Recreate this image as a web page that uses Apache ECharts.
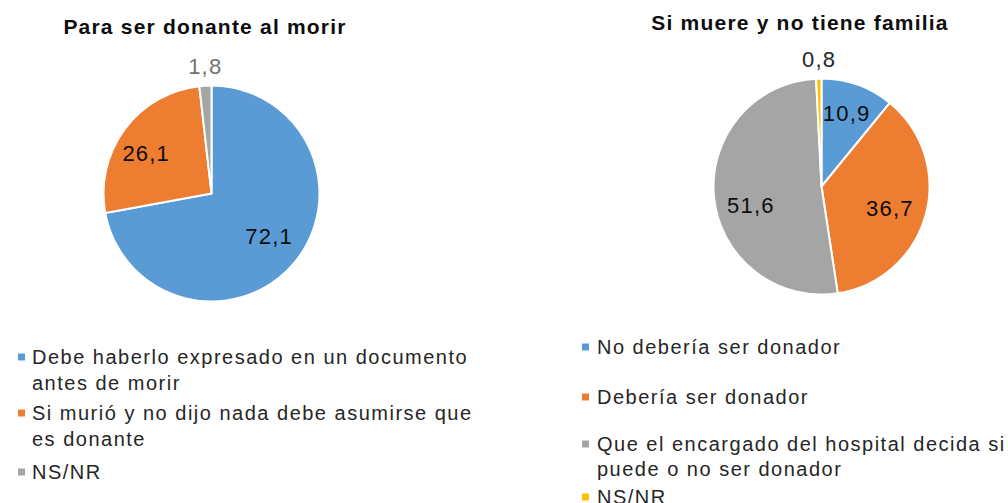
<!DOCTYPE html>
<html>
<head>
<meta charset="utf-8">
<script src="https://cdn.jsdelivr.net/npm/echarts@6/dist/echarts.min.js"></script>
<style>
  html, body { margin: 0; padding: 0; background: #ffffff; }
  #chart { width: 1008px; height: 503px; }
  #chart text { letter-spacing: 1.2px; }
  /* legend entries (20px text) are set a little looser */
  #chart text[style*="20px"] { letter-spacing: 1.5px; }
</style>
</head>
<body>
<div id="chart"></div>
<script>
// Left pie: "Para ser donante al morir"
const leftTitle = 'Para ser donante al morir';
const leftCategories = [
  'Debe haberlo expresado en un documento\nantes de morir',
  'Si murió y no dijo nada debe asumirse que\nes donante',
  'NS/NR'
];
const leftValues = [72.1, 26.1, 1.8];
const leftColors = ['#5B9BD5', '#ED7D31', '#A5A5A5'];

// Right pie: "Si muere y no tiene familia"
const rightTitle = 'Si muere y no tiene familia';
const rightCategories = [
  'No debería ser donador',
  'Debería ser donador',
  'Que el encargado del hospital decida si\npuede o no ser donador',
  'NS/NR'
];
const rightValues = [10.9, 36.7, 51.6, 0.8];
const rightColors = ['#5B9BD5', '#ED7D31', '#A5A5A5', '#FFC000'];

const FONT = '"Liberation Sans", Arial, sans-serif';
const fmt = p => String(p.value).replace('.', ',');

// Layout settings for each pie and its legend
const panels = [
  {
    title: leftTitle, names: leftCategories, values: leftValues, colors: leftColors,
    center: [211.5, 193.5], titleX: 205, titleTop: 16,
    legendX: 18, legendPadLeft: 2, lineH: 26,
    legendRows: [357, 413, 472],
    labelNudge: [[0, -5], [-5, 5], [5, 0]],
    smallLabelColor: '#737373'
  },
  {
    title: rightTitle, names: rightCategories, values: rightValues, colors: rightColors,
    center: [821.5, 186.5], titleX: 800, titleTop: 12,
    legendX: 582, legendPadLeft: 3, lineH: 25,
    legendRows: [347, 397, 444, 497],
    labelNudge: [[0, -2], [-4, 2], [4, 11], [5, 0]],
    smallLabelColor: '#262626'
  }
];

const RADIUS = 108;
const MARK = 7;
const titles = [];
const legends = [];
const series = [];

panels.forEach(pn => {
  titles.push({
    text: pn.title,
    left: pn.titleX,
    top: pn.titleTop,
    textAlign: 'center',
    padding: 0,
    textStyle: { fontFamily: FONT, fontSize: 21, fontWeight: 'bold', color: '#0d0d0d' }
  });

  // One legend block per entry so every row sits at its own height.
  // The marker square is drawn at the top of a taller icon box so that it
  // lines up with the first line of a wrapped label.
  pn.names.forEach((name, i) => {
    const lines = name.split('\n').length;
    const L = pn.lineH;
    const H = MARK + (lines - 1) * L;
    legends.push({
      orient: 'vertical',
      left: pn.legendX,
      top: pn.legendRows[i] - L / 2,
      padding: 0,
      icon: 'path://M0,0L' + MARK + ',0L' + MARK + ',' + MARK + 'L0,' + MARK + 'Z' +
            (H > MARK ? 'M0,' + H + 'L0,' + H : ''),
      itemWidth: MARK,
      itemHeight: H,
      selectedMode: false,
      itemStyle: { borderWidth: 0 },
      textStyle: { fontFamily: FONT, fontSize: 20, lineHeight: L, color: '#262626' },
      data: [{
        name: name,
        itemStyle: { color: pn.colors[i], borderWidth: 0 },
        textStyle: { padding: [0, 0, 0, pn.legendPadLeft] }
      }]
    });
  });

  // Slices
  series.push({
    type: 'pie',
    center: pn.center,
    radius: [0, RADIUS],
    startAngle: 90,
    clockwise: true,
    avoidLabelOverlap: false,
    emphasis: { disabled: true },
    itemStyle: { borderColor: '#ffffff', borderWidth: 2 },
    label: { show: false },
    labelLine: { show: false },
    data: pn.names.map((n, i) => ({ name: n, value: pn.values[i], itemStyle: { color: pn.colors[i] } }))
  });

  // Value labels, placed on an invisible ring so they sit further out in each slice
  series.push({
    type: 'pie',
    center: pn.center,
    radius: [36, RADIUS],
    startAngle: 90,
    clockwise: true,
    silent: true,
    avoidLabelOverlap: false,
    emphasis: { disabled: true },
    itemStyle: { color: 'rgba(0,0,0,0)', borderWidth: 0 },
    label: {
      show: true, position: 'inside', formatter: fmt,
      fontFamily: FONT, fontSize: 22, color: '#0d0d0d'
    },
    labelLine: { show: false, length: 19, length2: 0 },
    labelLayout: params => {
      const d = pn.labelNudge[params.dataIndex] || [0, 0];
      return { dx: d[0], dy: d[1] };
    },
    data: pn.names.map((n, i) => {
      const item = { name: n, value: pn.values[i] };
      if (pn.values[i] < 5) {
        item.label = { position: 'outside', color: pn.smallLabelColor, distanceToLabelLine: -13 };
      }
      return item;
    })
  });
});

const chart = echarts.init(document.getElementById('chart'), null, { renderer: 'svg' });
chart.setOption({
  backgroundColor: '#ffffff',
  animation: false,
  title: titles,
  legend: legends,
  tooltip: { show: false },
  series: series
});
</script>
</body>
</html>
